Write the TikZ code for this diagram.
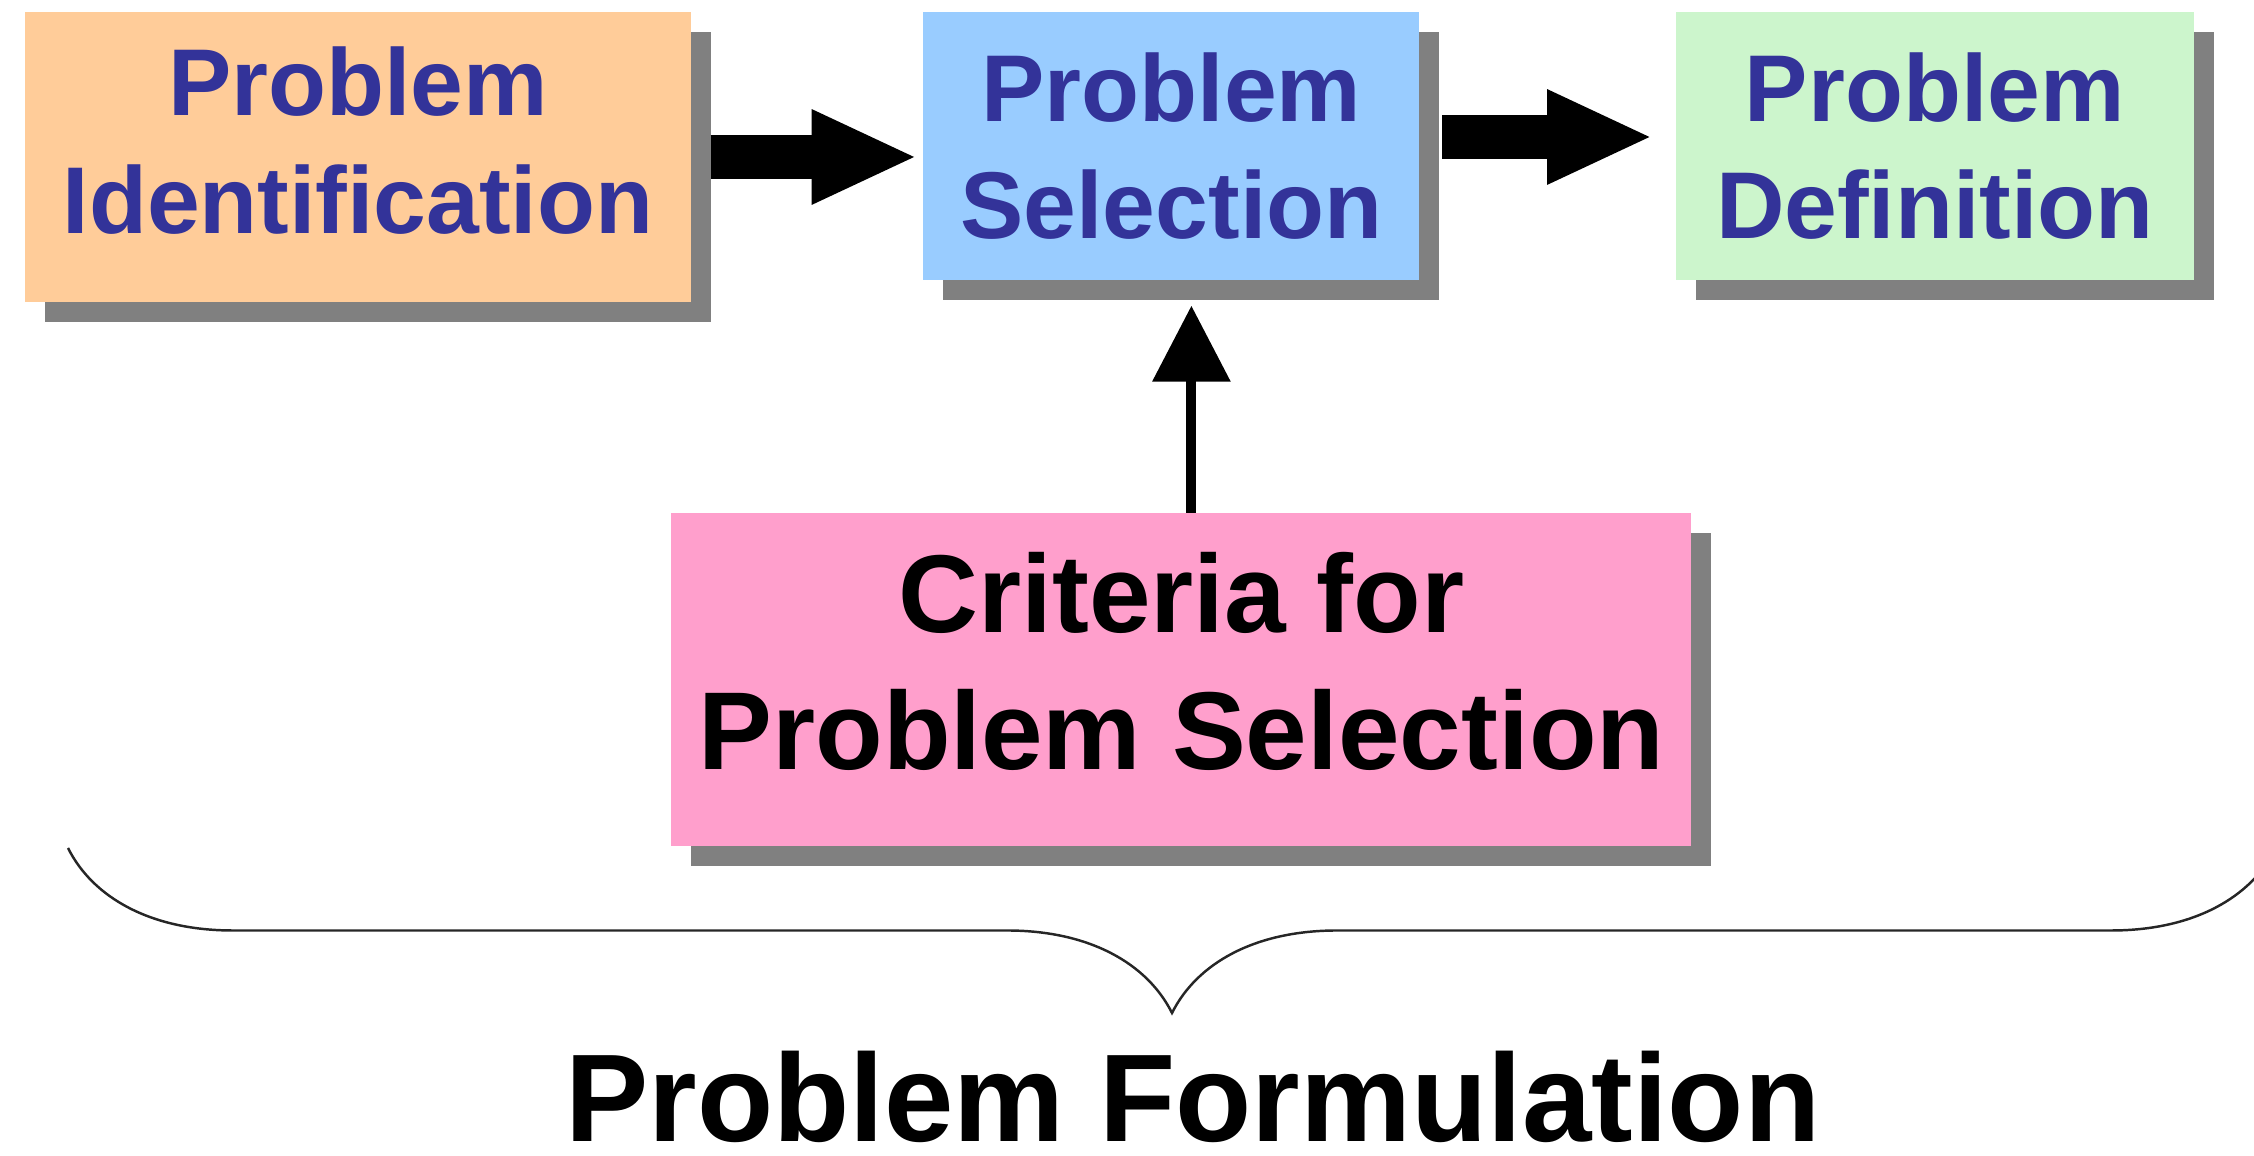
\documentclass[tikz,border=0pt]{standalone}
\usepackage{fontspec}
\setmainfont{Liberation Sans}
\usepackage{tikz}
\usetikzlibrary{positioning, arrows.meta, shadows, decorations.pathreplacing}
\definecolor{boxorange}{HTML}{FFCC99}
\definecolor{boxblue}{HTML}{99CCFF}
\definecolor{boxgreen}{HTML}{CCF5CC}
\definecolor{boxpink}{HTML}{FF9FCC}
\definecolor{navytext}{HTML}{333399}
\tikzset{
  stagebox/.style = {shape=rectangle, anchor=center,
                     align=center, inner sep=0pt,
                     minimum width=4.96cm, minimum height=2.68cm,
                     font=\fontsize{27}{33.5}\selectfont\bfseries,
                     text=navytext,
                     drop shadow={shadow xshift=0.2cm, shadow yshift=-0.2cm,
                                  fill=black!50, opacity=1}},
  critbox/.style = {stagebox, text=black,
                     minimum width=10.2cm, minimum height=3.33cm,
                     text depth=0.38cm,
                     font=\fontsize{31.5}{39}\selectfont\bfseries},
  bigarrow/.style = {line width=0.44cm,
                     -{Triangle[length=1.06cm, width=0.87cm]}},
  arrow/.style = {line width=0.1cm,
                  -{Triangle[length=0.76cm, width=0.76cm]}}
}
\begin{document}
\begin{tikzpicture}
            \useasboundingbox (0,0) rectangle (22.54,-11.56);
            \node (ident) [stagebox, fill=boxorange, minimum width=6.66cm, minimum height=2.9cm, text depth=0.34cm] at (3.58,-1.57) {Problem\\Identification};
            \node (select) [stagebox, fill=boxblue, right=2.31cm of ident.north east, anchor=north west] {Problem\\Selection};
            \node (defin) [stagebox, fill=boxgreen, minimum width=5.18cm, right=2.55cm of select.north east, anchor=north west] {Problem\\Definition};
            \node (crit) [critbox, fill=boxpink, below=2.32cm of select.south, xshift=0.1cm] {Criteria for\\Problem Selection};

            \draw [bigarrow, shorten <=0.19cm, shorten >=0.05cm] (ident.east) -- (ident.east -| select.west);
            \draw [bigarrow, shorten <=0.22cm, shorten >=0.22cm] ([yshift=0.09cm]select.east) -- ([yshift=0.09cm]select.east -| defin.west);
            \draw [arrow, shorten >=0.25cm] ([xshift=0.1cm]crit.north) -- ([xshift=0.1cm]crit.north |- select.south);

            \coordinate (bl) at (0.68,-8.48);
            \coordinate (br) at (22.76,-8.48);
            \draw [line width=0.7pt, black!85, decorate, decoration={brace, mirror, amplitude=1.65cm}] (bl) -- (br);
            \node (form) [anchor=base, inner sep=0pt, font=\fontsize{35.5}{42}\selectfont\bfseries] at (11.93,-11.42) {Problem Formulation};
        \end{tikzpicture}
\end{document}
